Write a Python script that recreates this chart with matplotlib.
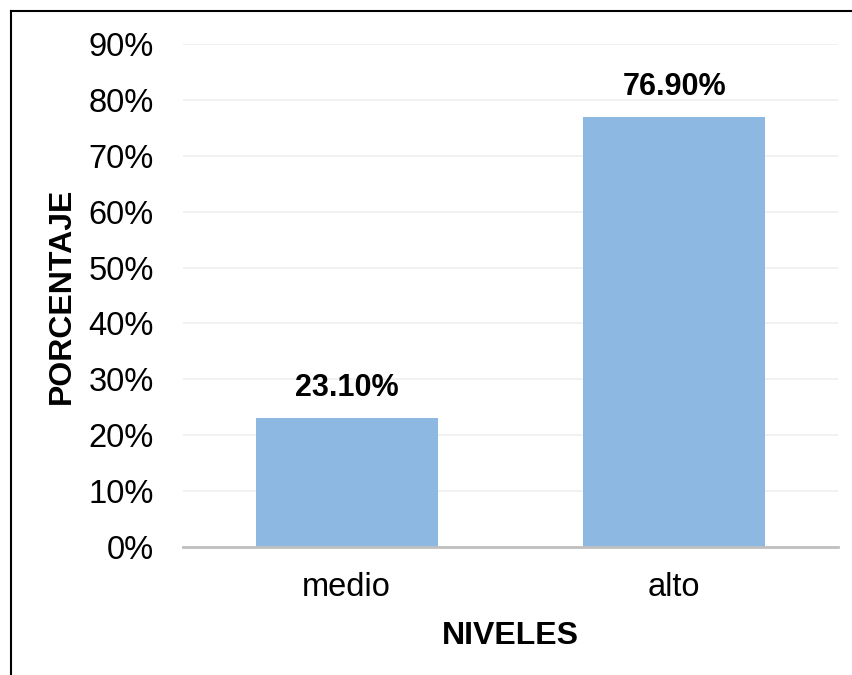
import matplotlib.pyplot as plt
from matplotlib.lines import Line2D
from matplotlib.ticker import FuncFormatter

plt.rcParams['font.family'] = ['Liberation Sans', 'DejaVu Sans']

niveles = ["medio", "alto"]
porcentajes = [23.10, 76.90]
etiquetas = ["23.10%", "76.90%"]
yticks = [0, 10, 20, 30, 40, 50, 60, 70, 80, 90]

fig = plt.figure(figsize=(8.53, 6.75), dpi=100)
ax = fig.add_axes([183 / 853, 1 - 547 / 675, (838 - 183) / 853, (547 - 44) / 675])

x = range(len(niveles))
bars = ax.bar(x, porcentajes, width=0.556, color="#8db8e1", zorder=2)

for b, lab in zip(bars, etiquetas):
    ax.annotate(lab, (b.get_x() + b.get_width() / 2, b.get_height()),
                xytext=(0, 11), textcoords="offset points",
                ha="center", va="bottom", fontsize=22, fontweight="bold")

ax.set_xlim(-0.5, 1.5)
ax.set_ylim(0, 90)
ax.set_yticks(yticks)
ax.yaxis.set_major_formatter(FuncFormatter(lambda v, p: f"{v:.0f}%"))
ax.set_xticks(list(x))
ax.set_xticklabels(niveles)
ax.tick_params(axis="y", length=0, pad=21, labelsize=23.5)
ax.tick_params(axis="x", length=0, pad=18, labelsize=23.5)
ax.grid(axis="y", color="#efefef", linewidth=1.2, zorder=0)
ax.set_axisbelow(True)

for s in ["top", "right", "left"]:
    ax.spines[s].set_visible(False)
ax.spines["bottom"].set_color("#bfbfbf")
ax.spines["bottom"].set_linewidth(2)
ax.spines["bottom"].set_zorder(3)

ax.set_xlabel("NIVELES", fontsize=23, fontweight="bold", labelpad=13)
ax.set_ylabel("PORCENTAJE", fontsize=23, fontweight="bold")
ax.yaxis.set_label_coords(-(183 - 77) / 655, 0.5)

# marco exterior (solo arriba e izquierda)
fig.add_artist(Line2D([11 / 853, 11 / 853], [0, 1 - 11 / 675], color="black", linewidth=1.5,
                      transform=fig.transFigure))
fig.add_artist(Line2D([11 / 853, 1], [1 - 11 / 675, 1 - 11 / 675], color="black", linewidth=1.5,
                      transform=fig.transFigure))

fig.savefig("out.png", dpi=100)
